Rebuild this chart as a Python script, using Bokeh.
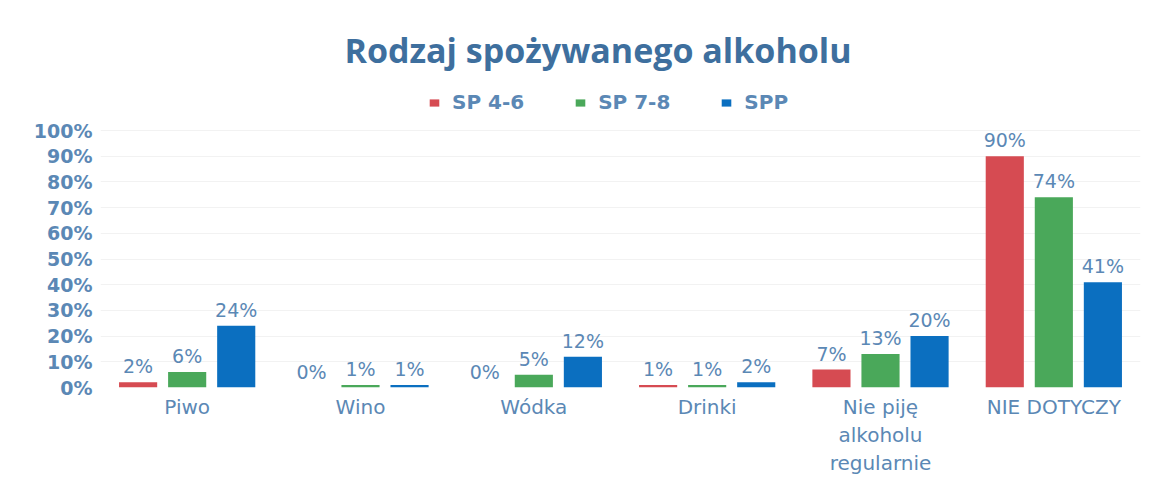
from bokeh.plotting import figure
from bokeh.models import ColumnDataSource, Legend, LegendItem, LabelSet, Label, Range1d, LinearAxis, FixedTicker
from bokeh.core.properties import value
from bokeh.transform import dodge
from bokeh.embed import file_html
from bokeh.resources import INLINE

categories = ["Piwo", "Wino", "Wódka", "Drinki", "Nie piję alkoholu regularnie", "NIE DOTYCZY"]
tick_label_lines = [["Piwo"], ["Wino"], ["Wódka"], ["Drinki"],
                    ["Nie piję", "alkoholu", "regularnie"], ["NIE DOTYCZY"]]
sp46 = [2, 0, 0, 1, 7, 90]
sp78 = [6, 1, 5, 1, 13, 74]
spp = [24, 1, 12, 2, 20, 41]
series_names = ["SP 4-6", "SP 7-8", "SPP"]
y_ticks = [0, 10, 20, 30, 40, 50, 60, 70, 80, 90, 100]

colors = ["#d64b52", "#4aa85a", "#0b6fc0"]
text_color = "#5b88b5"

idx = list(range(len(categories)))
src = ColumnDataSource(dict(
    xi=idx, cat=categories,
    s0=sp46, s1=sp78, s2=spp,
    l0=[f"{v}%" for v in sp46],
    l1=[f"{v}%" for v in sp78],
    l2=[f"{v}%" for v in spp],
))

p = figure(width=1149, height=477, x_range=Range1d(-0.5, len(categories) - 0.5),
           y_range=Range1d(0, 146.7), x_axis_location=None,
           output_backend="svg", toolbar_location=None,
           min_border_left=100, min_border_right=9, min_border_bottom=0, min_border_top=10)

offsets = [-0.283, 0.0, 0.283]
keys = ["s0", "s1", "s2"]
renderers = []
for off, k, c in zip(offsets, keys, colors):
    r = p.vbar(x=dodge("xi", off), top=k, width=0.22, source=src,
               fill_color=c, line_color=None)
    renderers.append(r)
    lbl = LabelSet(x=dodge("xi", off), y=k, text="l" + k[1], source=src,
                   text_align="center", text_baseline="bottom", y_offset=5,
                   text_font=value("DejaVu Sans"), text_font_size=value("19px"),
                   text_color=value(text_color))
    p.add_layout(lbl)

legend = Legend(items=[LegendItem(label=n, renderers=[r]) for n, r in zip(series_names, renderers)],
                orientation="horizontal", location=(328, 273), border_line_color=None,
                label_text_font="DejaVu Sans", label_text_font_size="20px", label_text_color=text_color,
                label_text_font_style="bold", glyph_width=12, glyph_height=9, spacing=50,
                margin=0, padding=2, label_standoff=12, background_fill_alpha=0)
p.add_layout(legend, "center")

p.add_layout(Label(x=(len(categories) - 1) / 2 - 0.13, y=131.3, text="Rodzaj spożywanego alkoholu",
                   text_align="center", text_baseline="middle", text_font="Open Sans",
                   text_font_size="34px", text_font_style="bold", text_color="#3e6f9e"))

# category axis, one stacked axis per label line
max_lines = max(len(l) for l in tick_label_lines)
for j in range(max_lines):
    ticks = [i for i in idx if len(tick_label_lines[i]) > j]
    ax = LinearAxis(ticker=FixedTicker(ticks=ticks),
                    major_label_overrides={i: tick_label_lines[i][j] for i in ticks})
    ax.axis_line_color = None
    ax.major_tick_line_color = None
    ax.minor_tick_line_color = None
    ax.major_tick_out = 0
    ax.major_tick_in = 0
    ax.minor_tick_out = 0
    ax.minor_tick_in = 0
    ax.major_label_text_font = "DejaVu Sans"
    ax.major_label_text_font_size = "20px"
    ax.major_label_text_color = text_color
    ax.major_label_standoff = 7 if j == 0 else 1
    p.add_layout(ax, "below")

p.yaxis.ticker = y_ticks
p.yaxis.major_label_overrides = {v: f"{v}%" for v in y_ticks}
p.yaxis.axis_line_color = None
p.yaxis.major_tick_line_color = None
p.yaxis.minor_tick_line_color = None
p.yaxis.major_label_text_font = "DejaVu Sans"
p.yaxis.major_label_text_font_size = "19px"
p.yaxis.major_label_text_font_style = "bold"
p.yaxis.major_label_text_color = text_color
p.yaxis.major_label_standoff = 2

p.xgrid.grid_line_color = None
p.ygrid.grid_line_color = "#f2f2f2"
p.outline_line_color = None

open("out.html", "w").write(file_html(p, INLINE))
